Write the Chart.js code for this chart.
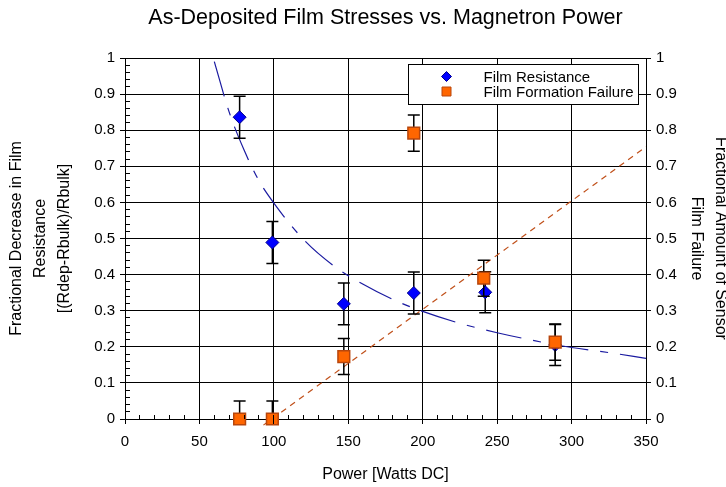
<!DOCTYPE html>
<html>
<head>
<meta charset="utf-8">
<script src="https://cdn.jsdelivr.net/npm/chart.js@4.4.0/dist/chart.umd.min.js"></script>
<style>
  html, body { margin: 0; padding: 0; background: #fff; }
</style>
</head>
<body>
<canvas id="chart" width="726" height="487"></canvas>
<script>

/**
 * data
 */
var powerRes = [77, 99, 147, 194, 242, 289];
var filmResistance = [0.836, 0.489, 0.319, 0.349, 0.351, 0.205];
var resistanceErr = [0.058, 0.058, 0.058, 0.058, 0.057, 0.057];

var powerFail = [77, 99, 147, 194, 241, 289];
var filmFailure = [0.0, 0.0, 0.173, 0.792, 0.39, 0.213];
var failureErr = [0.05, 0.05, 0.05, 0.05, 0.05, 0.05];

// dashed trend curves as they appear in the picture
var resTrendX = [60, 70, 80, 90, 100, 120, 140, 160, 180, 200, 225, 250, 275, 300, 325, 350];
var resTrendY = [0.99, 0.85, 0.745, 0.66, 0.598, 0.497, 0.425, 0.373, 0.331, 0.298, 0.265, 0.239, 0.217, 0.198, 0.184, 0.168];
var failTrendX = [93, 350];
var failTrendY = [-0.017, 0.754];

var xTicks = [0, 350, 50];
var yTicks = [0, 1, 0.1];
var xMinorStep = 10;
var yMinorStep = 0.02;

var FONT = "'Liberation Sans', Arial, sans-serif";

function pts(xs, ys) {
    var out = [];
    for (var i = 0; i < xs.length; i++) {
        out.push({x: xs[i], y: ys[i]});
    }
    return out;
}

function yLabel(value) {
    return String(Math.round(value * 10) / 10);
}

/**
 * error bars, drawn just before the markers of their own series
 */
var errorBars = {
    id: 'errorBars',
    beforeDatasetDraw: function(chart, args) {
        var ds = chart.data.datasets[args.index];
        if (!ds.errors) return;
        var ctx = chart.ctx, a = chart.chartArea;
        var x = chart.scales.x, y = chart.scales.y;
        ctx.save();
        // only the part inside the plot is shown
        ctx.beginPath();
        ctx.rect(a.left - 10, a.top, a.right - a.left + 20, a.bottom - a.top);
        ctx.clip();
        ctx.strokeStyle = '#000';
        ctx.lineWidth = 1.5;
        ctx.beginPath();
        for (var i = 0; i < ds.data.length; i++) {
            var px = x.getPixelForValue(ds.data[i].x);
            var top = y.getPixelForValue(ds.data[i].y + ds.errors[i]);
            var bot = y.getPixelForValue(ds.data[i].y - ds.errors[i]);
            ctx.moveTo(px, top); ctx.lineTo(px, bot);
            ctx.moveTo(px - 6, top); ctx.lineTo(px + 6, top);
            ctx.moveTo(px - 6, bot); ctx.lineTo(px + 6, bot);
        }
        ctx.stroke();
        ctx.restore();
    }
};

function align(p) {
    return Math.round(p - 0.5) + 0.5;
}

/**
 * minor / major tick marks on the axes
 */
var axisTicks = {
    id: 'axisTicks',
    afterDatasetsDraw: function(chart) {
        var ctx = chart.ctx, a = chart.chartArea;
        var x = chart.scales.x, y = chart.scales.y;
        ctx.save();
        ctx.strokeStyle = '#000';
        ctx.lineWidth = 1;
        ctx.beginPath();
        var n = Math.round((xTicks[1] - xTicks[0]) / xMinorStep);
        for (var i = 0; i <= n; i++) {
            var v = xTicks[0] + i * xMinorStep;
            var px = align(x.getPixelForValue(v));
            var major = (i % Math.round(xTicks[2] / xMinorStep)) === 0;
            ctx.moveTo(px, a.bottom - 4);
            ctx.lineTo(px, a.bottom + (major ? 5 : 0));
        }
        var m = Math.round((yTicks[1] - yTicks[0]) / yMinorStep);
        for (var j = 0; j <= m; j++) {
            var yv = yTicks[0] + j * yMinorStep;
            var py = align(y.getPixelForValue(yv));
            var ymaj = (j % Math.round(yTicks[2] / yMinorStep)) === 0;
            ctx.moveTo(a.left - (ymaj ? 5 : 0), py);
            ctx.lineTo(a.left + 5, py);
            if (ymaj) {
                ctx.moveTo(a.right - 4, py);
                ctx.lineTo(a.right + 5, py);
            }
        }
        ctx.stroke();
        ctx.restore();
    }
};

/**
 * boxed legend in the upper right of the plot
 */
var boxLegend = {
    id: 'boxLegend',
    afterDraw: function(chart) {
        var ctx = chart.ctx, a = chart.chartArea;
        var left = align(a.right - 238), top = align(a.top + 6);
        var w = 230, h = 40;
        ctx.save();
        ctx.fillStyle = '#fff';
        ctx.fillRect(left, top, w, h);
        ctx.strokeStyle = '#000';
        ctx.lineWidth = 1;
        ctx.strokeRect(left, top, w, h);

        ctx.font = '15px ' + FONT;
        ctx.textBaseline = 'middle';
        ctx.fillStyle = '#000';
        for (var i = 0; i < 2; i++) {
            var ds = chart.data.datasets[i];
            var cx = left + 38, cy = top + 12 + i * 15;
            ctx.beginPath();
            if (ds.pointStyle === 'rectRot') {
                ctx.moveTo(cx - 5, cy); ctx.lineTo(cx, cy - 5);
                ctx.lineTo(cx + 5, cy); ctx.lineTo(cx, cy + 5);
                ctx.closePath();
            } else {
                ctx.rect(cx - 4.5, cy - 4.5, 9, 9);
            }
            ctx.fillStyle = ds.backgroundColor;
            ctx.fill();
            ctx.strokeStyle = ds.borderColor;
            ctx.stroke();
            ctx.fillStyle = '#000';
            ctx.fillText(ds.label, left + 75, cy + 1);
        }
        ctx.restore();
    }
};

var chart = new Chart(document.getElementById('chart').getContext('2d'), {
    type: 'scatter',
    data: {
        datasets: [
            {
                label: 'Film Resistance',
                data: pts(powerRes, filmResistance),
                errors: resistanceErr,
                pointStyle: 'rectRot',
                pointRadius: 6.5,
                backgroundColor: '#0000ff',
                borderColor: '#00008b',
                borderWidth: 1,
                clip: false,
                order: 2
            },
            {
                label: 'Film Formation Failure',
                data: pts(powerFail, filmFailure),
                errors: failureErr,
                pointStyle: 'rect',
                pointRadius: 8.3,
                backgroundColor: '#ff6600',
                borderColor: '#b8460c',
                borderWidth: 1.5,
                clip: false,
                order: 1
            },
            {
                label: 'res trend',
                data: pts(resTrendX, resTrendY),
                showLine: true,
                pointRadius: 0,
                borderColor: '#1a1aa0',
                borderWidth: 1.2,
                borderDash: [36, 12, 8, 12],
                cubicInterpolationMode: 'monotone',
                order: 3
            },
            {
                label: 'fail trend',
                data: pts(failTrendX, failTrendY),
                showLine: true,
                pointRadius: 0,
                borderColor: '#c0501a',
                borderWidth: 1.2,
                borderDash: [6, 5],
                clip: false,
                order: 4
            }
        ]
    },
    options: {
        responsive: false,
        animation: false,
        devicePixelRatio: 1,
        layout: { padding: 0 },
        plugins: {
            legend: { display: false },
            tooltip: { enabled: false },
            title: {
                display: true,
                fullSize: false,
                text: 'As-Deposited Film Stresses vs. Magnetron Power',
                color: '#000',
                font: { family: FONT, size: 21.5, weight: 'normal', lineHeight: 1.2 },
                padding: { top: 5, bottom: 27.2 }
            }
        },
        scales: {
            x: {
                type: 'linear',
                min: xTicks[0], max: xTicks[1],
                afterFit: function(s) { s.height = 68; },
                ticks: { stepSize: xTicks[2], color: '#000', padding: 14, font: { family: FONT, size: 15 } },
                grid: { color: '#000', lineWidth: 1, drawTicks: false },
                border: { color: '#000', width: 1 },
                title: {
                    display: true,
                    text: 'Power [Watts DC]',
                    color: '#000',
                    font: { family: FONT, size: 16, lineHeight: 1.2 },
                    padding: { top: 0, bottom: 2.4 }
                }
            },
            y: {
                position: 'left',
                min: yTicks[0], max: yTicks[1],
                afterFit: function(s) { s.width = 125; },
                ticks: { stepSize: yTicks[2], color: '#000', padding: 10, font: { family: FONT, size: 15 }, callback: yLabel },
                grid: { color: '#000', lineWidth: 1, drawTicks: false },
                border: { color: '#000', width: 1 },
                title: {
                    display: true,
                    text: ['Fractional Decrease in Film', 'Resistance', '[(Rdep-Rbulk)/Rbulk]'],
                    color: '#000',
                    font: { family: FONT, size: 16, lineHeight: 1.5 },
                    padding: { top: 5, bottom: 0 }
                }
            },
            y2: {
                position: 'right',
                min: yTicks[0], max: yTicks[1],
                afterFit: function(s) { s.width = 80; },
                ticks: { stepSize: yTicks[2], color: '#000', padding: 10, font: { family: FONT, size: 15 }, callback: yLabel },
                grid: { display: false, drawTicks: false },
                border: { color: '#000', width: 1 },
                title: {
                    display: true,
                    text: ['Fractional Amount of Sensor', 'Film Failure'],
                    color: '#000',
                    font: { family: FONT, size: 16, lineHeight: 1.5 },
                    padding: { top: -6, bottom: 0 }
                }
            }
        }
    },
    plugins: [errorBars, axisTicks, boxLegend]
});
</script>
</body>
</html>
